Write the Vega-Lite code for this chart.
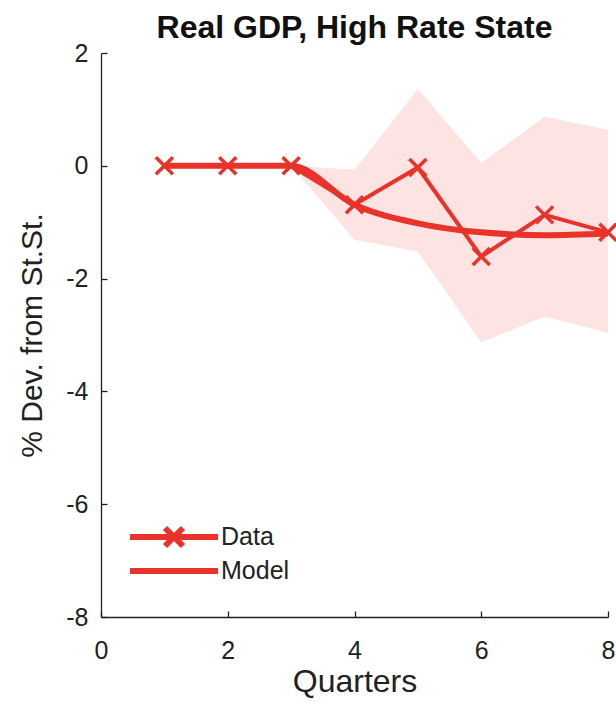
{
  "$schema": "https://vega.github.io/schema/vega-lite/v6.json",
  "autosize": {"type": "none"},
  "padding": {"left": 101, "top": 53, "right": 8, "bottom": 87},
  "width": 507,
  "height": 564,
  "background": "white",
  "config": {
    "view": {"stroke": null},
    "font": "Liberation Sans",
    "axis": {
      "grid": false,
      "domainColor": "#222",
      "domainWidth": 1.3,
      "tickColor": "#222",
      "tickWidth": 1.3,
      "tickSize": -6,
      "labelFont": "Liberation Sans",
      "labelFontSize": 25,
      "labelColor": "#222",
      "labelExpr": "'' + datum.value",
      "titleFont": "Liberation Sans",
      "titleFontSize": 30,
      "titleFontWeight": "normal",
      "titleColor": "#222"
    }
  },
  "title": {
    "text": "Real GDP, High Rate State",
    "font": "Liberation Sans",
    "fontSize": 32,
    "fontWeight": "bold",
    "color": "#111",
    "anchor": "middle",
    "offset": -4
  },
  "datasets": {
    "lines": [
      {"q": 1, "series": "Data", "value": 0},
      {"q": 2, "series": "Data", "value": 0},
      {"q": 3, "series": "Data", "value": 0},
      {"q": 4, "series": "Data", "value": -0.69},
      {"q": 5, "series": "Data", "value": -0.03},
      {"q": 6, "series": "Data", "value": -1.61},
      {"q": 7, "series": "Data", "value": -0.87},
      {"q": 8, "series": "Data", "value": -1.18},
      {"q": 1, "series": "Model", "value": 0},
      {"q": 2, "series": "Model", "value": 0},
      {"q": 3, "series": "Model", "value": 0},
      {"q": 4, "series": "Model", "value": -0.69},
      {"q": 5, "series": "Model", "value": -1.02},
      {"q": 6, "series": "Model", "value": -1.18},
      {"q": 7, "series": "Model", "value": -1.23},
      {"q": 8, "series": "Model", "value": -1.2}
    ],
    "band": [
      {"q": 3, "lo": 0, "hi": 0},
      {"q": 4, "lo": -1.31, "hi": -0.07},
      {"q": 5, "lo": -1.52, "hi": 1.36},
      {"q": 6, "lo": -3.13, "hi": 0.05},
      {"q": 7, "lo": -2.67, "hi": 0.87},
      {"q": 8, "lo": -2.96, "hi": 0.64}
    ]
  },
  "layer": [
    {
      "data": {"name": "band"},
      "mark": {"type": "area", "color": "#fde3e2", "opacity": 1},
      "encoding": {
        "x": {"field": "q", "type": "quantitative", "scale": {"domain": [0, 8], "nice": false}, "axis": {"values": [0, 2, 4, 6, 8], "title": "Quarters", "titleFontSize": 32, "titlePadding": 3, "labelPadding": 27, "labelFlush": false}},
        "y": {"field": "hi", "type": "quantitative", "scale": {"domain": [-8, 2], "nice": false}, "axis": {"values": [-8, -6, -4, -2, 0, 2], "title": "% Dev. from St.St.", "titlePadding": 18, "labelPadding": 19}},
        "y2": {"field": "lo"}
      }
    },
    {
      "data": {"name": "lines"},
      "transform": [{"filter": "datum.series === 'Model'"}],
      "mark": {"type": "line", "color": "#e8322a", "strokeWidth": 6, "interpolate": "monotone"},
      "encoding": {
        "x": {"field": "q", "type": "quantitative"},
        "y": {"field": "value", "type": "quantitative"}
      }
    },
    {
      "data": {"name": "lines"},
      "transform": [{"filter": "datum.series === 'Data'"}],
      "mark": {"type": "line", "color": "#e8322a", "strokeWidth": 4},
      "encoding": {
        "x": {"field": "q", "type": "quantitative"},
        "y": {"field": "value", "type": "quantitative"}
      }
    },
    {
      "data": {"name": "lines"},
      "transform": [{"filter": "datum.series === 'Data'"}],
      "mark": {"type": "point", "shape": "M-1,-1L1,1M-1,1L1,-1", "filled": false, "color": "#e8322a", "strokeWidth": 3.5, "size": 289, "opacity": 1},
      "encoding": {
        "x": {"field": "q", "type": "quantitative"},
        "y": {"field": "value", "type": "quantitative"}
      }
    },
    {
      "data": {"name": "lines"},
      "mark": {"type": "point", "filled": false, "opacity": 0},
      "encoding": {
        "x": {"field": "q", "type": "quantitative"},
        "y": {"field": "value", "type": "quantitative"},
        "shape": {
          "field": "series",
          "type": "nominal",
          "scale": {"domain": ["Data", "Model"], "range": ["M-4.4,0L4.4,0M-0.9,-0.9L0.9,0.9M-0.9,0.9L0.9,-0.9", "M-4.4,0L4.4,0"]},
          "legend": {
            "title": null,
            "orient": "none",
            "legendX": 60,
            "legendY": 471,
            "padding": 0,
            "rowPadding": 0,
            "symbolSize": 400,
            "symbolStrokeWidth": 6,
            "symbolStrokeColor": "#e8322a",
            "symbolFillColor": "transparent",
            "symbolOpacity": 1,
            "labelOffset": 34,
            "labelFont": "Liberation Sans",
            "labelFontSize": 25,
            "labelColor": "#222",
            "labelBaseline": "middle"
          }
        }
      }
    }
  ]
}
